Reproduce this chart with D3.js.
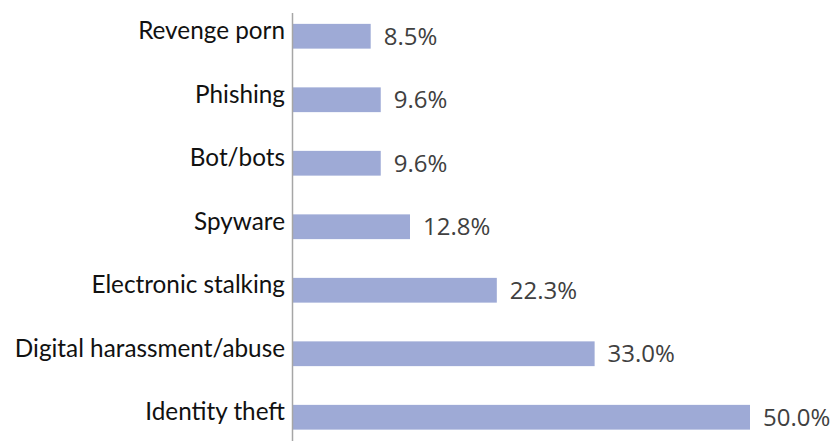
<!DOCTYPE html>
<html><head><meta charset="utf-8">
<script src="https://cdn.jsdelivr.net/npm/d3@7"></script>
<style>html,body{margin:0;padding:0;background:#fff;}</style>
</head><body>
<svg id="c" width="834" height="441"></svg>
<script>
const categories = ["Revenge porn","Phishing","Bot/bots","Spyware","Electronic stalking","Digital harassment/abuse","Identity theft"];
const values = [8.5, 9.6, 9.6, 12.8, 22.3, 33.0, 50.0];
const valueLabels = ["8.5%","9.6%","9.6%","12.8%","22.3%","33.0%","50.0%"];

const svg = d3.select("#c");
const x0 = 293;
const x = d3.scaleLinear().domain([0, 50]).range([x0, 750]);
const y = d3.scaleBand().domain(categories).range([4.5, 449]).paddingInner(0.61).paddingOuter(0.305);

svg.selectAll("rect.bar").data(categories).join("rect")
  .attr("class","bar")
  .attr("x", x(0))
  .attr("y", d => y(d))
  .attr("width", (d,i) => x(values[i]) - x(0))
  .attr("height", y.bandwidth())
  .attr("fill", "#9eaad6");

svg.append("line")
  .attr("x1", 292.5).attr("x2", 292.5)
  .attr("y1", 13).attr("y2", 441)
  .attr("stroke", "#a6a6a6").attr("stroke-width", 1.5);

svg.selectAll("text.cat").data(categories).join("text")
  .attr("class","cat")
  .attr("x", 285)
  .attr("y", d => y(d) + y.bandwidth()/2 + 3)
  .attr("text-anchor", "end")
  .attr("font-family", "Lato")
  .attr("font-size", 24.3)
  .attr("fill", "#111")
  .text(d => d);

svg.selectAll("text.val").data(categories).join("text")
  .attr("class","val")
  .attr("x", (d,i) => x(values[i]) + 13)
  .attr("y", d => y(d) + y.bandwidth()/2)
  .attr("dy", "0.35em")
  .attr("font-family", "Open Sans")
  .attr("font-size", 24)
  .attr("fill", "#404040")
  .text((d,i) => valueLabels[i]);
</script>
</body></html>
